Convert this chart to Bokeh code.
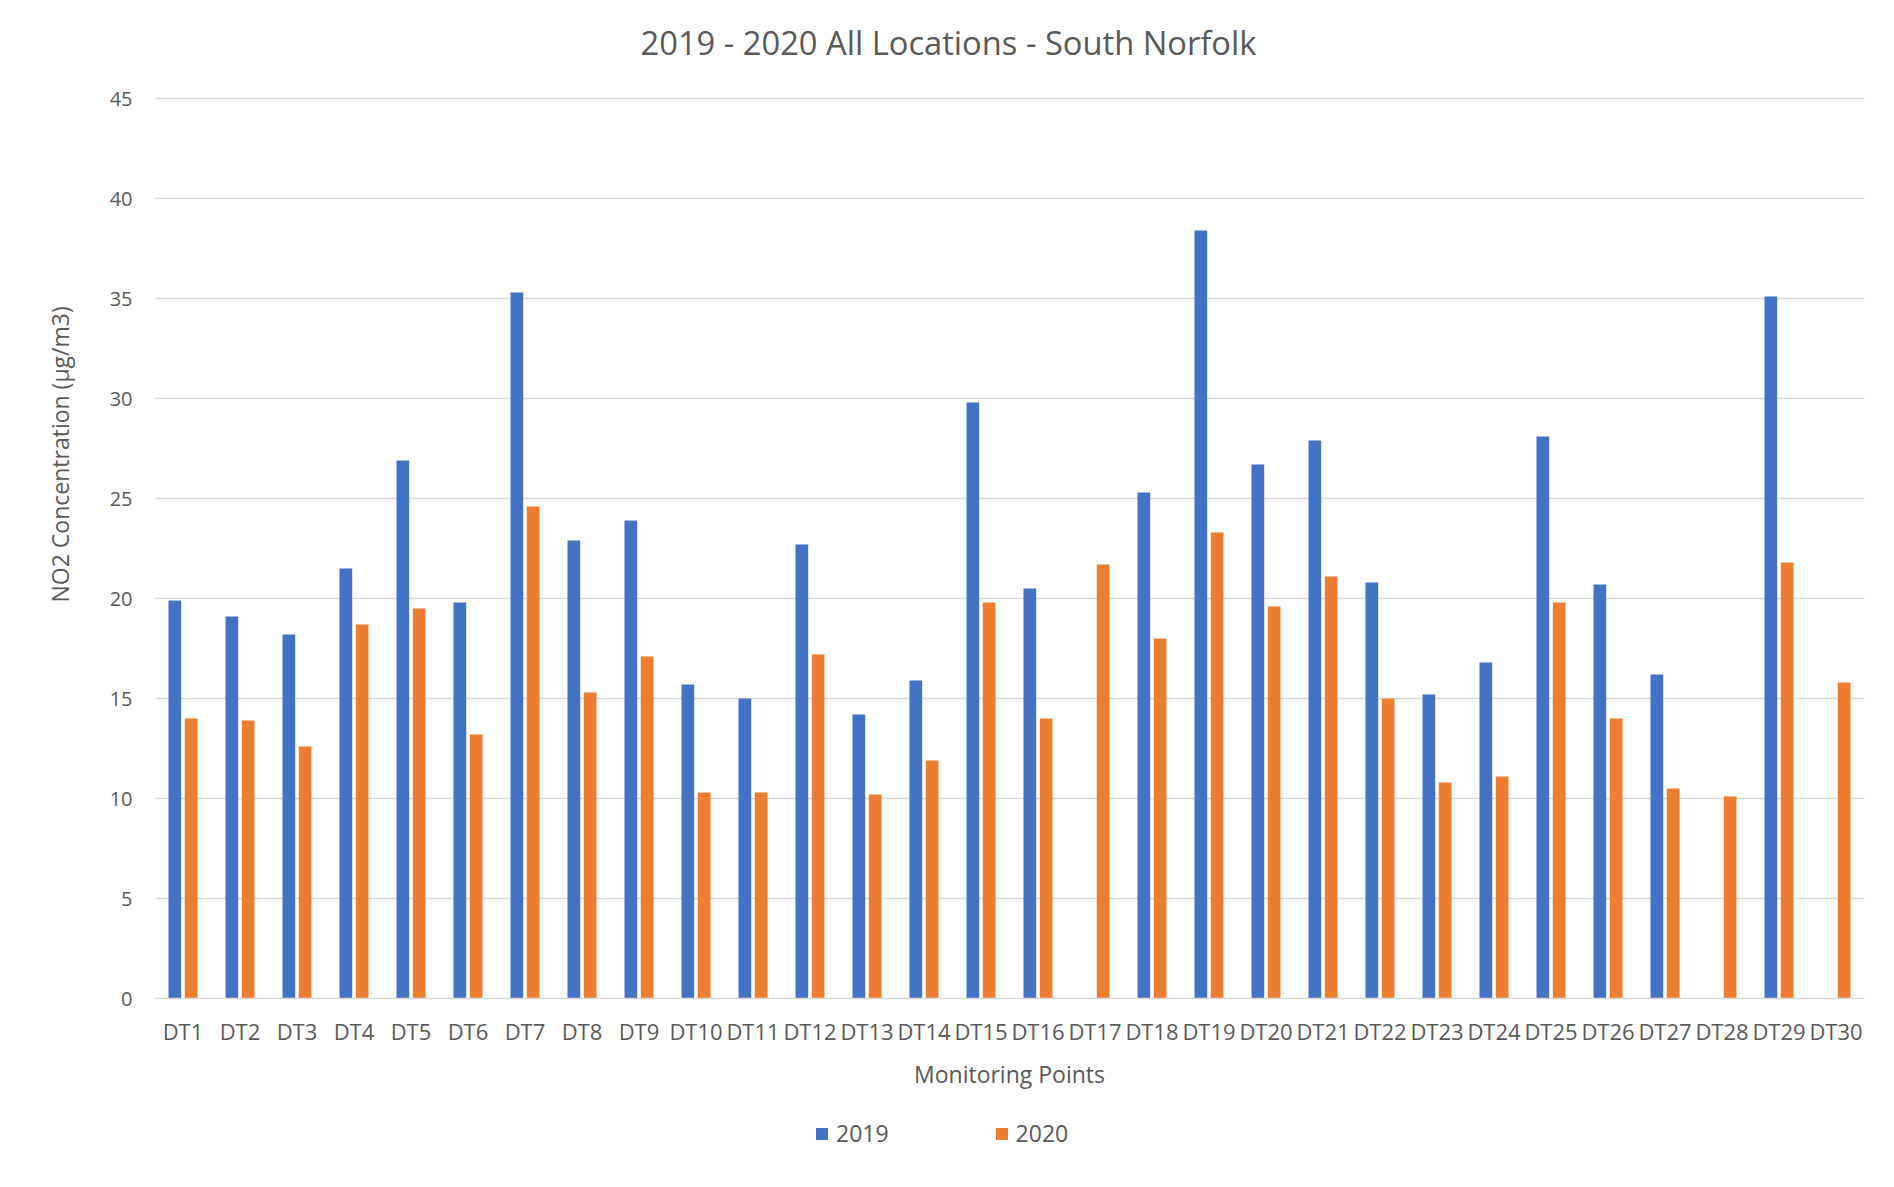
from bokeh.plotting import figure
from bokeh.layouts import column
from bokeh.models import (ColumnDataSource, FactorRange, Range1d, FixedTicker,
                          Legend, LegendItem, Title)
from bokeh.transform import dodge
from bokeh.embed import file_html
from bokeh.resources import INLINE

NAN = float("nan")

categories = ["DT%d" % i for i in range(1, 31)]
values_2019 = [19.9, 19.1, 18.2, 21.5, 26.9, 19.8, 35.3, 22.9, 23.9, 15.7,
               15.0, 22.7, 14.2, 15.9, 29.8, 20.5, NAN, 25.3, 38.4, 26.7,
               27.9, 20.8, 15.2, 16.8, 28.1, 20.7, 16.2, NAN, 35.1, NAN]
values_2020 = [14.0, 13.9, 12.6, 18.7, 19.5, 13.2, 24.6, 15.3, 17.1, 10.3,
               10.3, 17.2, 10.2, 11.9, 19.8, 14.0, 21.7, 18.0, 23.3, 19.6,
               21.1, 15.0, 10.8, 11.1, 19.8, 14.0, 10.5, 10.1, 21.8, 15.8]
y_ticks = [0, 5, 10, 15, 20, 25, 30, 35, 40, 45]

title_text = "2019 - 2020 All Locations - South Norfolk"
x_label = "Monitoring Points"
y_label = "NO2 Concentration (µg/m3)"
series_names = ["2019", "2020"]

FONT = "Open Sans"
TXT = "#595959"
GRID = "#D9D9D9"
BLUE = "#4472C4"
ORANGE = "#ED7D31"

source = ColumnDataSource(data=dict(cat=categories, y2019=values_2019, y2020=values_2020))

p = figure(x_range=FactorRange(factors=categories), y_range=Range1d(0, 46.35),
           frame_width=1710, frame_height=927,
           min_border_left=154, min_border_right=16, min_border_top=71, min_border_bottom=100,
           output_backend="svg", toolbar_location=None, title=title_text)

r1 = p.vbar(x=dodge("cat", -0.143, range=p.x_range), top="y2019", width=0.223, bottom=0,
            source=source, fill_color=BLUE, line_color=None)
r2 = p.vbar(x=dodge("cat", 0.143, range=p.x_range), top="y2020", width=0.223, bottom=0,
            source=source, fill_color=ORANGE, line_color=None)

# title
p.title.text_font = FONT
p.title.text_font_size = "32.7px"
p.title.text_font_style = "normal"
p.title.text_color = TXT
p.title.align = "left"
p.title.vertical_align = "top"
p.title.offset = 486
p.title.standoff = 10

p.outline_line_color = None
p.background_fill_color = "white"
p.border_fill_color = "white"

# grid
p.xgrid.grid_line_color = None
p.ygrid.grid_line_color = GRID
p.ygrid.grid_line_width = 1.5
p.yaxis.ticker = FixedTicker(ticks=y_ticks)

# y axis
p.yaxis.axis_line_color = None
p.yaxis.major_tick_line_color = None
p.yaxis.minor_tick_line_color = None
p.yaxis.major_tick_out = 0
p.yaxis.major_label_standoff = 22
p.yaxis.major_label_text_font = FONT
p.yaxis.major_label_text_font_size = "20px"
p.yaxis.major_label_text_color = TXT

# x axis
p.xaxis.axis_line_color = GRID
p.xaxis.axis_line_width = 1.5
p.xaxis.major_tick_line_color = None
p.xaxis.minor_tick_line_color = None
p.xaxis.major_tick_out = 0
p.xaxis.major_label_standoff = 17
p.xaxis.major_label_text_font = FONT
p.xaxis.major_label_text_font_size = "22px"
p.xaxis.major_label_text_color = TXT
p.xaxis.axis_label = x_label
p.xaxis.axis_label_text_font = FONT
p.xaxis.axis_label_text_font_size = "23px"
p.xaxis.axis_label_text_font_style = "normal"
p.xaxis.axis_label_text_color = TXT
p.xaxis.axis_label_standoff = 9

# y axis title (placed above the frame centre, as in the reference)
ytitle = Title(text=y_label, align="left", offset=396, standoff=61,
               text_font=FONT, text_font_size="23px", text_font_style="normal",
               text_color=TXT)
p.add_layout(ytitle, "left")

# legend strip below the chart (its swatches use empty, non-drawing entries)
pl = figure(width=1880, height=70, min_border=0, x_range=Range1d(0, 1), y_range=Range1d(0, 1),
            x_axis_type=None, y_axis_type=None, output_backend="svg", toolbar_location=None)
pl.grid.visible = False
pl.outline_line_color = None
pl.border_fill_color = "white"
swatch = ColumnDataSource(data=dict(x=[NAN], top=[NAN]))
lr1 = pl.vbar(x="x", top="top", width=0.1, source=swatch, fill_color=BLUE, line_color=None)
lr2 = pl.vbar(x="x", top="top", width=0.1, source=swatch, fill_color=ORANGE, line_color=None)
lg = Legend(items=[LegendItem(label=series_names[0], renderers=[lr1]),
                   LegendItem(label=series_names[1], renderers=[lr2])],
            orientation="horizontal", location=(660, 19), padding=0, margin=0,
            spacing=105, glyph_width=15, glyph_height=15, label_standoff=7,
            border_line_color=None, background_fill_alpha=0,
            label_text_font=FONT, label_text_font_size="23px", label_text_color=TXT)
pl.add_layout(lg, "center")

layout = column(p, pl)
open("out.html", "w").write(file_html(layout, INLINE))
